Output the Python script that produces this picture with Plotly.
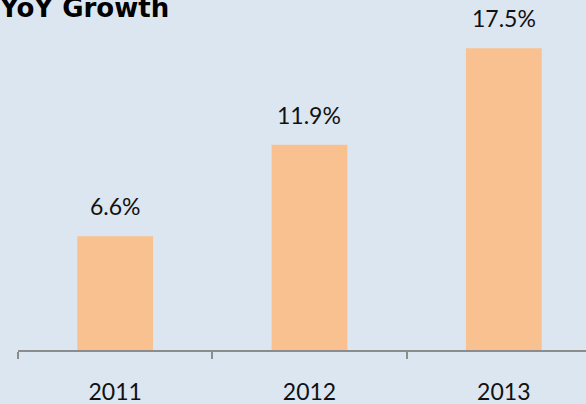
import plotly.graph_objects as go

years = ["2011", "2012", "2013"]
growth = [6.6, 11.9, 17.5]
labels = [f"{v}%" for v in growth]

bg = "#dce6f0"
bar_color = "#f9c18f"

fig = go.Figure(
    go.Bar(x=years, y=growth, marker=dict(color=bar_color, line=dict(width=0)),
           hoverinfo="skip")
)

# value labels above each bar (category index used for placement)
for i, (v, t) in enumerate(zip(growth, labels)):
    fig.add_annotation(x=i, y=v, text=t, showarrow=False, yanchor="bottom",
                       yshift=14, font=dict(family="Lato", size=23, color="#111111"))

fig.add_annotation(xref="paper", yref="paper", x=(171 - 18) / 568, y=1, xanchor="right",
                   yanchor="top", yshift=9, text="<b>YoY Growth</b>", showarrow=False,
                   font=dict(family="DejaVu Sans", size=26, color="#000000"))

fig.update_layout(
    width=586, height=404,
    margin=dict(l=18, r=0, t=0, b=54, pad=0),
    paper_bgcolor=bg, plot_bgcolor=bg,
    bargap=0.61, showlegend=False,
    xaxis=dict(type="category", range=[-0.5, 2.423], tickson="boundaries",
               ticks="outside", ticklen=7, tickcolor="#8c8c8c", tickwidth=1.5,
               showline=True, linecolor="#8c8c8c", linewidth=2,
               showgrid=False, ticklabelstandoff=20,
               tickfont=dict(family="Lato", size=23, color="#111111")),
    yaxis=dict(range=[0, 20.3], visible=False, showgrid=False, zeroline=False),
)

fig.write_html("out.html")
